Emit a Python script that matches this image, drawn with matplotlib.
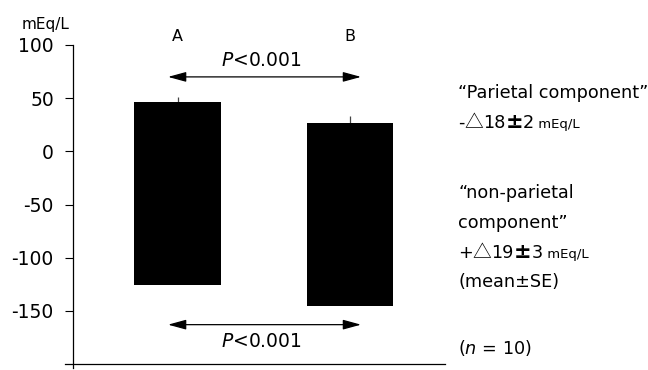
import matplotlib
matplotlib.use("Agg")
import matplotlib.pyplot as plt

# ---------------------------
# Data
# ---------------------------
groups = ["A", "B"]
bar_top = [46, 27]          # mEq/L
bar_bottom = [-126, -145]   # mEq/L
err_up = [5, 6]             # SE, drawn upward only
y_ticks = [100, 50, 0, -50, -100, -150]
p_text = "<0.001"
arrow_top_y = 70
arrow_bottom_y = -163

# each note line is a list of (text, style) runs
# style: "n" normal, "c" CJK glyph, "p" big plus-minus, "s" small
notes = [
    [("\u201cParietal component\u201d", "n")],
    [("-", "n"), ("\u25b3", "c"), ("18", "n"), ("\u00b1", "p"), ("2", "n"), (" mEq/L", "s")],
    [("\u201cnon-parietal", "n")],
    [("component\u201d", "n")],
    [("+", "n"), ("\u25b3", "c"), ("19", "n"), ("\u00b1", "p"), ("3", "n"), (" mEq/L", "s")],
    [("(mean\u00b1SE)", "n")],
]
note_y = [93, 123, 193, 223, 253, 282]

plt.rcParams["font.family"] = ["DejaVu Sans"]

W, H = 648, 370
fig = plt.figure(figsize=(W / 100, H / 100), dpi=100)
ax = fig.add_axes([73 / W, (H - 364) / H, (445 - 73) / W, (364 - 45) / H])

x = list(range(len(groups)))
heights = [t - b for t, b in zip(bar_top, bar_bottom)]
ax.bar(x, heights, bottom=bar_bottom, width=0.5, color="black", zorder=2)
ax.errorbar(x, bar_top, yerr=[[0, 0], err_up], fmt="none", ecolor="#444444",
            elinewidth=0.9, capsize=0, zorder=1)

ax.set_xlim(-0.606, 1.551)
ax.set_ylim(-200, 100)
ax.set_yticks(y_ticks)
ax.set_yticklabels([str(v) for v in y_ticks], fontsize=13.5)
ax.tick_params(axis="y", length=5.8, width=0.8, pad=8.0, direction="out")
ax.set_xticks([])

for s in ("top", "right", "bottom", "left"):
    ax.spines[s].set_visible(False)
# axis lines drawn a little past their crossing, like the original
ax.plot([-0.022, 1], [0, 0], transform=ax.transAxes, color="black", lw=0.9, clip_on=False)
ax.plot([0, 0], [-0.013, 1], transform=ax.transAxes, color="black", lw=0.9, clip_on=False)

# group labels
for xi, g in zip(x, groups):
    ax.text(xi, 108, g, ha="center", va="center", fontsize=11.5)

# P-value arrows
for yv, ty in ((arrow_top_y, 85.5), (arrow_bottom_y, -179)):
    ax.annotate("", xy=(1.064, yv), xytext=(-0.055, yv),
                arrowprops=dict(arrowstyle="<|-|>,head_length=1.1,head_width=0.3",
                                color="black", lw=0.9, shrinkA=0, shrinkB=0))
    ax.text(0.485, ty, "$\\mathit{P}$" + p_text, ha="center", va="center", fontsize=13.5)

fig.text(46 / W, (H - 25) / H, "mEq/L", ha="center", va="center", fontsize=11)

# notes on the right
styles = {
    "n": dict(fontsize=12.7, family=["DejaVu Sans"]),
    "c": dict(fontsize=13.5, family=["Noto Sans CJK JP", "DejaVu Sans"]),
    "p": dict(fontsize=15, family=["DejaVu Sans"], fontweight="bold"),
    "s": dict(fontsize=9.5, family=["DejaVu Sans"]),
}
renderer = fig.canvas.get_renderer()
for runs, py in zip(notes, note_y):
    px = 458
    for txt, st in runs:
        t = fig.text(px / W, (H - py - 5) / H, txt, ha="left", va="baseline", **styles[st])
        px = t.get_window_extent(renderer).x1
fig.text(458 / W, (H - 354) / H, "($\\mathit{n}$ = 10)", ha="left", va="baseline", fontsize=12.7)

fig.savefig("out.png", dpi=100)
